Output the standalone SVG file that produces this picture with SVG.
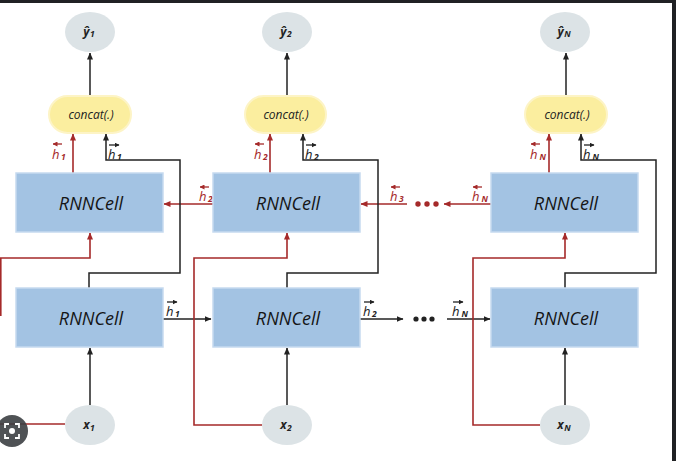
<svg xmlns="http://www.w3.org/2000/svg" width="676" height="461" viewBox="0 0 676 461">
<defs>
<style>
.cell{fill:#a3c3e3;stroke:#c6daef;stroke-width:1.5}
.cc{fill:#fbee9f;stroke:#fdf4c6;stroke-width:2}
.io{fill:#dce3e6}
.k{fill:none;stroke:#222;stroke-width:1.5}
.r{fill:none;stroke:#a52a2a;stroke-width:1.6}
.ka{fill:none;stroke:#222;stroke-width:1.3}
.ra{fill:none;stroke:#a52a2a;stroke-width:1.3}
text{font-family:"Open Sans","Liberation Sans",sans-serif;font-style:italic}
.big{font-size:18px;fill:#151515;text-anchor:middle}
.cct{font-size:12px;fill:#222;text-anchor:middle}
.iot{font-size:12px;font-weight:bold;fill:#222;text-anchor:middle}
.hk{font-size:13px;fill:#222}
.hr{font-size:13px;fill:#a52a2a}
.sub{font-size:8.5px;font-weight:bold}
</style>
<marker id="ab" markerWidth="7" markerHeight="6" refX="6.5" refY="3" orient="auto" markerUnits="userSpaceOnUse"><path d="M0,0 L7,3 L0,6 Z" fill="#222"/></marker>
<marker id="ar" markerWidth="7" markerHeight="6" refX="6.5" refY="3" orient="auto" markerUnits="userSpaceOnUse"><path d="M0,0 L7,3 L0,6 Z" fill="#a52a2a"/></marker>
<marker id="sb" markerWidth="5" markerHeight="5" refX="4.5" refY="2.5" orient="auto" markerUnits="userSpaceOnUse"><path d="M0,0 L5,2.5 L0,5 Z" fill="#222"/></marker>
<marker id="sr" markerWidth="5" markerHeight="5" refX="4.5" refY="2.5" orient="auto" markerUnits="userSpaceOnUse"><path d="M0,0 L5,2.5 L0,5 Z" fill="#a52a2a"/></marker>
</defs>
<rect x="0" y="0" width="676" height="461" fill="#ffffff"/>
<rect x="0" y="0" width="676" height="3" fill="#202124"/>
<rect x="672" y="0" width="4" height="461" fill="#202124"/>

<g id="connectors">
<path class="r" d="M213,204 H164" marker-end="url(#ar)"/>
<path class="r" d="M407,204 H361" marker-end="url(#ar)"/>
<path class="r" d="M491,204 H444" marker-end="url(#ar)"/>
<circle cx="418" cy="204" r="2.7" fill="#a52a2a"/>
<circle cx="427" cy="204" r="2.7" fill="#a52a2a"/>
<circle cx="436" cy="204" r="2.7" fill="#a52a2a"/>
<path class="k" d="M163,319 H211" marker-end="url(#ab)"/>
<path class="k" d="M360,319 H403" marker-end="url(#ab)"/>
<path class="k" d="M447,319 H490" marker-end="url(#ab)"/>
<circle cx="416" cy="319" r="2.6" fill="#222"/>
<circle cx="424" cy="319" r="2.6" fill="#222"/>
<circle cx="432" cy="319" r="2.6" fill="#222"/>
<path class="k" d="M89,288 V273 H180 V160 H106 V134" marker-end="url(#ab)"/>
<path class="r" d="M73,173 V134" marker-end="url(#ar)"/>
<path class="k" d="M90,96 V53" marker-end="url(#ab)"/>
<path class="k" d="M90,405 V348" marker-end="url(#ab)"/>
<path class="r" d="M65,424 H-2"/>
<path class="r" d="M0.8,316 V258 H90 V233" marker-end="url(#ar)"/>
<path class="k" d="M287,288 V273 H378 V160 H303 V134" marker-end="url(#ab)"/>
<path class="r" d="M270,173 V134" marker-end="url(#ar)"/>
<path class="k" d="M287,96 V53" marker-end="url(#ab)"/>
<path class="k" d="M287,405 V348" marker-end="url(#ab)"/>
<path class="r" d="M262,425 H194 V258 H287 V233" marker-end="url(#ar)"/>
<path class="k" d="M565,288 V273 H656 V160 H581 V134" marker-end="url(#ab)"/>
<path class="r" d="M549,173 V134" marker-end="url(#ar)"/>
<path class="k" d="M566,96 V53" marker-end="url(#ab)"/>
<path class="k" d="M565,405 V348" marker-end="url(#ab)"/>
<path class="r" d="M540,425 H473 V258 H565 V233" marker-end="url(#ar)"/>
</g>

<g id="labels">
<g><text class="hr" x="52" y="159">h<tspan class="sub" dx="1.5" dy="1">1</tspan></text><path class="ra" d="M62,144 H53" marker-end="url(#sr)"/></g>
<g><text class="hk" x="108" y="159">h<tspan class="sub" dx="1.5" dy="1">1</tspan></text><path class="ka" d="M109,145 H119" marker-end="url(#sb)"/></g>
<g><text class="hr" x="254" y="159">h<tspan class="sub" dx="1.5" dy="1">2</tspan></text><path class="ra" d="M264,144 H255" marker-end="url(#sr)"/></g>
<g><text class="hk" x="305" y="159">h<tspan class="sub" dx="1.5" dy="1">2</tspan></text><path class="ka" d="M306,145 H316" marker-end="url(#sb)"/></g>
<g><text class="hr" x="530" y="159">h<tspan class="sub" dx="2" dy="1">N</tspan></text><path class="ra" d="M540,144 H531" marker-end="url(#sr)"/></g>
<g><text class="hk" x="583" y="159">h<tspan class="sub" dx="2" dy="1">N</tspan></text><path class="ka" d="M584,145 H594" marker-end="url(#sb)"/></g>
<g><text class="hr" x="199" y="201">h<tspan class="sub" dx="1.5" dy="1">2</tspan></text><path class="ra" d="M209,187 H200" marker-end="url(#sr)"/></g>
<g><text class="hr" x="390" y="201">h<tspan class="sub" dx="1.5" dy="1">3</tspan></text><path class="ra" d="M400,187 H391" marker-end="url(#sr)"/></g>
<g><text class="hr" x="472" y="201">h<tspan class="sub" dx="2" dy="1">N</tspan></text><path class="ra" d="M482,187 H473" marker-end="url(#sr)"/></g>
<g><text class="hk" x="166" y="316">h<tspan class="sub" dx="1.5" dy="1">1</tspan></text><path class="ka" d="M167,302 H177" marker-end="url(#sb)"/></g>
<g><text class="hk" x="363" y="316">h<tspan class="sub" dx="1.5" dy="1">2</tspan></text><path class="ka" d="M364,302 H374" marker-end="url(#sb)"/></g>
<g><text class="hk" x="452" y="316">h<tspan class="sub" dx="2" dy="1">N</tspan></text><path class="ka" d="M453,302 H463" marker-end="url(#sb)"/></g>
</g>

<g id="y1"><ellipse class="io" cx="90" cy="32" rx="25" ry="20"/><text class="iot" x="89" y="36">ŷ<tspan class="sub" dx="0.5" dy="1">1</tspan></text></g>
<g id="y2"><ellipse class="io" cx="287" cy="32" rx="25" ry="20"/><text class="iot" x="286" y="36">ŷ<tspan class="sub" dx="0.5" dy="1">2</tspan></text></g>
<g id="yN"><ellipse class="io" cx="565" cy="32" rx="25" ry="20"/><text class="iot" x="564" y="36">ŷ<tspan class="sub" dx="0.5" dy="1">N</tspan></text></g>

<g id="concat1"><rect class="cc" x="49" y="96" width="82" height="37" rx="18.5"/><text class="cct" x="91" y="119">concat(.)</text></g>
<g id="concat2"><rect class="cc" x="245" y="96" width="81" height="37" rx="18.5"/><text class="cct" x="286" y="119">concat(.)</text></g>
<g id="concatN"><rect class="cc" x="525" y="96" width="82" height="37" rx="18.5"/><text class="cct" x="567" y="119">concat(.)</text></g>

<g id="bwd1"><rect class="cell" x="16" y="173" width="147" height="59"/><text class="big" x="91" y="210">RNNCell</text></g>
<g id="bwd2"><rect class="cell" x="213" y="173" width="147" height="59"/><text class="big" x="288" y="210">RNNCell</text></g>
<g id="bwdN"><rect class="cell" x="491" y="173" width="147" height="59"/><text class="big" x="566" y="210">RNNCell</text></g>

<g id="fwd1"><rect class="cell" x="16" y="288" width="147" height="59"/><text class="big" x="91" y="325">RNNCell</text></g>
<g id="fwd2"><rect class="cell" x="213" y="288" width="147" height="59"/><text class="big" x="288" y="325">RNNCell</text></g>
<g id="fwdN"><rect class="cell" x="491" y="288" width="147" height="59"/><text class="big" x="566" y="325">RNNCell</text></g>

<g id="x1"><ellipse class="io" cx="90" cy="425" rx="25" ry="20"/><text class="iot" x="89" y="429">x<tspan class="sub" dx="0.5" dy="2">1</tspan></text></g>
<g id="x2"><ellipse class="io" cx="287" cy="425" rx="25" ry="20"/><text class="iot" x="286" y="429">x<tspan class="sub" dx="0.5" dy="2">2</tspan></text></g>
<g id="xN"><ellipse class="io" cx="565" cy="425" rx="25" ry="20"/><text class="iot" x="564" y="429">x<tspan class="sub" dx="0.5" dy="2">N</tspan></text></g>

<g id="lens">
<circle cx="12" cy="431" r="16" fill="#3c3f43" fill-opacity="0.9"/>
<path d="M5,428 V424 H9 M15,424 H19 V428 M19,434 V438 H15 M9,438 H5 V434" fill="none" stroke="#ffffff" stroke-width="1.8"/>
<circle cx="12" cy="431" r="3" fill="#ffffff"/>
</g>
</svg>
